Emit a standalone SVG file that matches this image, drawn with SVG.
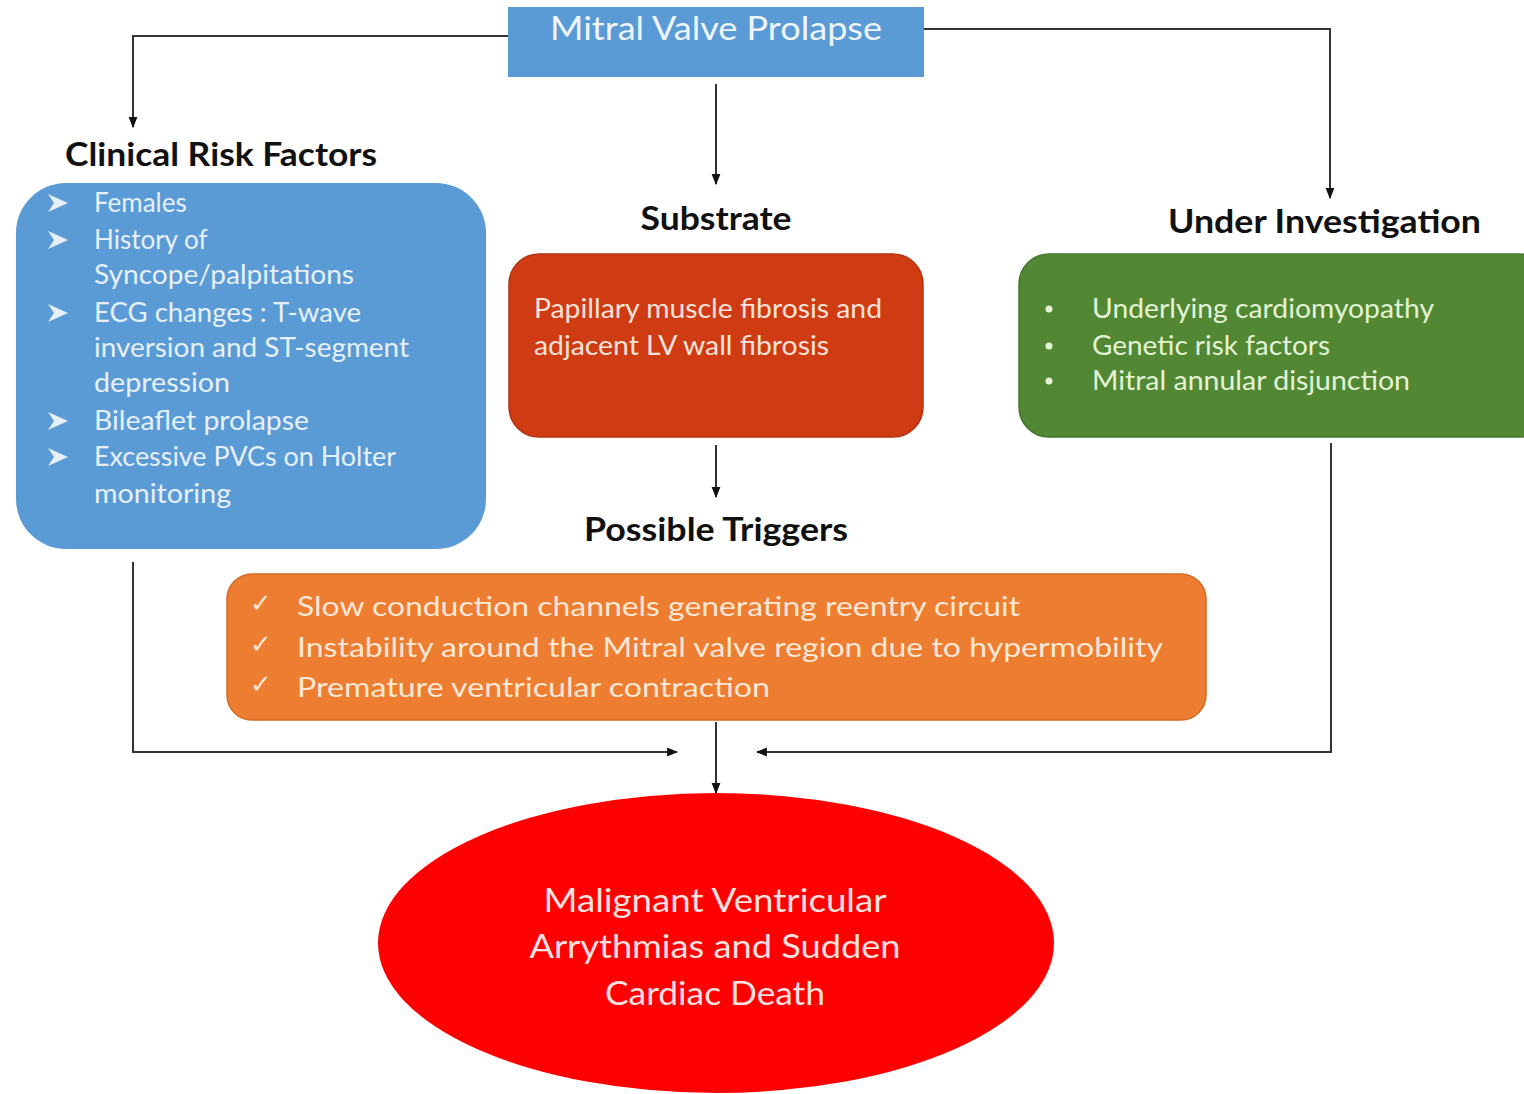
<svg xmlns="http://www.w3.org/2000/svg" width="1524" height="1094" viewBox="0 0 1524 1094">
<defs>
<marker id="arr" viewBox="0 0 10 10" refX="9" refY="5" markerWidth="11" markerHeight="11" markerUnits="userSpaceOnUse" orient="auto">
<path d="M0,1 L10,5 L0,9 z" fill="#111"/>
</marker>
<path id="blt" d="M0,-9 L20,0 L0,9 L6,0 z" fill="#e6f0fb"/>
<style>
.t{font-family:Lato,"Liberation Sans",sans-serif;}
.h{font-family:Lato,"Liberation Sans",sans-serif;font-weight:bold;font-size:32px;fill:#111;}
.w{font-family:Lato,"Liberation Sans",sans-serif;font-size:26px;}
.c{fill:none;stroke:#333;stroke-width:2;}
</style>
</defs>
<rect width="1524" height="1094" fill="#fff"/>

<g id="connectors">
<polyline class="c" points="508,36 133,36 133,127" marker-end="url(#arr)"/>
<polyline class="c" points="924,29 1330,29 1330,198" marker-end="url(#arr)"/>
<line class="c" x1="716" y1="84" x2="716" y2="184" marker-end="url(#arr)"/>
<line class="c" x1="716" y1="445" x2="716" y2="497" marker-end="url(#arr)"/>
<polyline class="c" points="133,562 133,752 677,752" marker-end="url(#arr)"/>
<polyline class="c" points="1331,443 1331,752 757,752" marker-end="url(#arr)"/>
<line class="c" x1="716" y1="722" x2="716" y2="793" marker-end="url(#arr)"/>
</g>

<g id="mvp">
<rect x="508" y="7" width="416" height="70" fill="#5b9bd5"/>
<text class="t" x="716" y="40" text-anchor="middle" font-size="32" fill="#eef5ff" textLength="332" lengthAdjust="spacingAndGlyphs">Mitral Valve Prolapse</text>
</g>

<g id="clinical">
<text class="h" x="65" y="166" textLength="312" lengthAdjust="spacingAndGlyphs">Clinical Risk Factors</text>
<rect x="16" y="183" width="470" height="366" rx="50" fill="#5b9bd5"/>
<use href="#blt" x="48" y="203"/>
<use href="#blt" x="48" y="240"/>
<use href="#blt" x="48" y="313"/>
<use href="#blt" x="48" y="421"/>
<use href="#blt" x="48" y="457"/>
<g class="w" fill="#e6f0fb">
<text x="94" y="212">Females</text>
<text x="94" y="249">History of</text>
<text x="94" y="284" textLength="260" lengthAdjust="spacingAndGlyphs">Syncope/palpitations</text>
<text x="94" y="322" textLength="267" lengthAdjust="spacingAndGlyphs">ECG changes : T-wave</text>
<text x="94" y="357" textLength="315" lengthAdjust="spacingAndGlyphs">inversion and ST-segment</text>
<text x="94" y="392" textLength="136" lengthAdjust="spacingAndGlyphs">depression</text>
<text x="94" y="430" textLength="215" lengthAdjust="spacingAndGlyphs">Bileaflet  prolapse</text>
<text x="94" y="466" textLength="302" lengthAdjust="spacingAndGlyphs">Excessive PVCs on Holter</text>
<text x="94" y="503" textLength="137" lengthAdjust="spacingAndGlyphs">monitoring</text>
</g>
</g>

<g id="substrate">
<text class="h" x="716" y="230" text-anchor="middle" textLength="151" lengthAdjust="spacingAndGlyphs">Substrate</text>
<rect x="509" y="254" width="414" height="183" rx="30" fill="#cf3b13" stroke="#b5330f" stroke-width="1.5"/>
<text class="w" x="534" y="318" fill="#fbe3dc" textLength="348" lengthAdjust="spacingAndGlyphs">Papillary muscle fibrosis and</text>
<text class="w" x="534" y="355" fill="#fbe3dc" textLength="295" lengthAdjust="spacingAndGlyphs">adjacent LV wall fibrosis</text>
</g>

<g id="investigation">
<text class="h" x="1168" y="233" textLength="313" lengthAdjust="spacingAndGlyphs">Under Investigation</text>
<rect x="1019" y="254" width="530" height="183" rx="30" fill="#528734" stroke="#46752c" stroke-width="1.5"/>
<g class="w" fill="#e3f3d6">
<circle cx="1049" cy="309" r="3.5" fill="#e3f3d6"/>
<circle cx="1049" cy="346" r="3.5" fill="#e3f3d6"/>
<circle cx="1049" cy="381" r="3.5" fill="#e3f3d6"/>
<text x="1092" y="318" textLength="342" lengthAdjust="spacingAndGlyphs">Underlying cardiomyopathy</text>
<text x="1092" y="355" textLength="238" lengthAdjust="spacingAndGlyphs">Genetic risk factors</text>
<text x="1092" y="390" textLength="318" lengthAdjust="spacingAndGlyphs">Mitral annular disjunction</text>
</g>
</g>

<g id="triggers">
<text class="h" x="716" y="541" text-anchor="middle" textLength="264" lengthAdjust="spacingAndGlyphs">Possible Triggers</text>
<rect x="227" y="574" width="979" height="146" rx="25" fill="#ed7d31" stroke="#d46a24" stroke-width="1.5"/>
<g class="w" fill="#fde7d6">
<text x="250" y="612">✓</text>
<text x="250" y="653">✓</text>
<text x="250" y="693">✓</text>
<text x="297" y="616" textLength="723" lengthAdjust="spacingAndGlyphs">Slow conduction channels generating reentry circuit</text>
<text x="297" y="657" textLength="866" lengthAdjust="spacingAndGlyphs">Instability around the Mitral valve region due to hypermobility</text>
<text x="297" y="697" textLength="473" lengthAdjust="spacingAndGlyphs">Premature ventricular contraction</text>
</g>
</g>

<g id="outcome">
<ellipse cx="716" cy="943" rx="338" ry="150" fill="#fe0000"/>
<g class="t" font-size="33" fill="#fde0e0" text-anchor="middle">
<text x="715" y="912" textLength="343" lengthAdjust="spacingAndGlyphs">Malignant Ventricular</text>
<text x="715" y="958" textLength="371" lengthAdjust="spacingAndGlyphs">Arrythmias and Sudden</text>
<text x="715" y="1005" textLength="220" lengthAdjust="spacingAndGlyphs">Cardiac Death</text>
</g>
</g>
</svg>
